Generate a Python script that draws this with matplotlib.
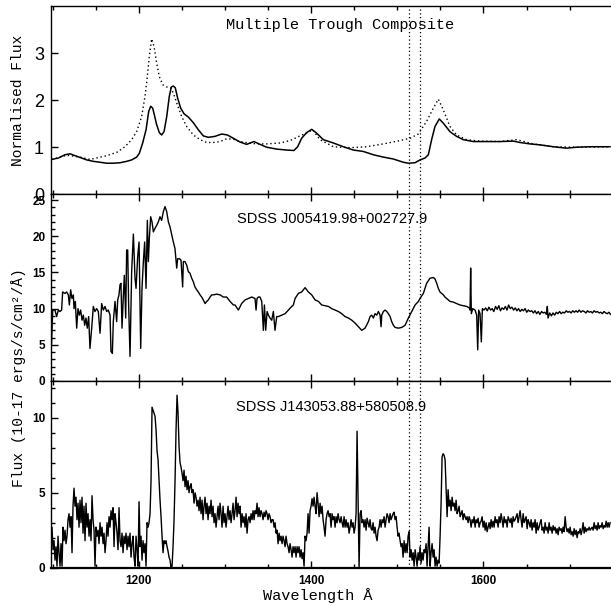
import numpy as np
import matplotlib.pyplot as plt
from matplotlib.ticker import MultipleLocator, FixedLocator

# ---- composite spectra (normalised flux) ----
wave_comp = [1098.8, 1106.5, 1114.2, 1120.0, 1125.9, 1133.6, 1139.4, 1147.1, 1154.9, 1162.6,
             1170.3, 1178.1, 1185.8, 1191.6, 1197.4, 1200.5, 1204.4, 1208.3, 1211.4, 1213.7,
             1216.0, 1217.9, 1220.6, 1223.7, 1226.4, 1229.2, 1232.3, 1235.3, 1237.7, 1240.0,
             1242.3, 1245.0, 1248.5, 1252.4, 1257.4, 1263.2, 1269.0, 1274.8, 1280.6, 1288.3,
             1296.1, 1302.7, 1309.6, 1317.4, 1325.1, 1333.6, 1340.6, 1348.3, 1359.9, 1371.5,
             1380.0, 1384.3, 1388.9, 1394.7, 1400.6, 1405.6, 1410.2, 1414.1, 1425.7, 1437.3,
             1448.9, 1460.5, 1472.1, 1483.7, 1495.3, 1507.0, 1512.7, 1520.5, 1526.3, 1532.1,
             1536.0, 1539.8, 1543.7, 1548.7, 1553.4, 1561.1, 1568.8, 1576.6, 1588.2, 1603.7,
             1619.1, 1634.6, 1642.4, 1654.0, 1665.6, 1681.0, 1696.5, 1708.1, 1723.6, 1746.8]
flux_comp = [0.74, 0.77, 0.84, 0.86, 0.82, 0.77, 0.73, 0.70, 0.68, 0.66,
             0.66, 0.67, 0.70, 0.73, 0.79, 0.87, 1.09, 1.37, 1.76, 1.87,
             1.83, 1.69, 1.48, 1.31, 1.26, 1.33, 1.65, 2.08, 2.28, 2.30,
             2.26, 2.04, 1.83, 1.71, 1.64, 1.52, 1.37, 1.24, 1.21, 1.23,
             1.28, 1.26, 1.19, 1.11, 1.06, 1.12, 1.06, 1.00, 0.96, 0.94,
             0.93, 1.01, 1.19, 1.31, 1.38, 1.31, 1.23, 1.16, 1.09, 1.01,
             0.94, 0.91, 0.84, 0.79, 0.75, 0.68, 0.66, 0.67, 0.73, 0.77,
             0.84, 1.16, 1.44, 1.60, 1.51, 1.33, 1.23, 1.16, 1.12, 1.12,
             1.12, 1.13, 1.10, 1.07, 1.05, 1.01, 0.98, 1.00, 1.01, 1.01]

wave_ref = [1098.8, 1116.2, 1131.7, 1143.3, 1162.6, 1174.2, 1183.9, 1191.6, 1197.4, 1203.2,
            1207.1, 1209.8, 1212.1, 1214.8, 1217.6, 1220.6, 1223.7, 1227.6, 1232.3, 1236.9,
            1240.0, 1243.9, 1249.7, 1255.5, 1263.2, 1271.0, 1278.7, 1286.4, 1294.2, 1301.9,
            1309.6, 1317.4, 1327.0, 1336.7, 1348.3, 1363.8, 1375.4, 1387.0, 1396.7, 1401.7,
            1410.2, 1425.7, 1445.0, 1464.4, 1483.7, 1503.1, 1514.7, 1524.3, 1534.0, 1541.8,
            1547.6, 1553.4, 1561.1, 1568.8, 1580.5, 1595.9, 1619.1, 1638.5, 1657.8, 1681.0,
            1704.3, 1746.8]
flux_ref = [0.74, 0.83, 0.79, 0.74, 0.82, 0.89, 1.01, 1.16, 1.33, 1.65,
            2.08, 2.50, 2.93, 3.30, 3.14, 2.79, 2.50, 2.33, 2.28, 2.26,
            2.15, 1.94, 1.65, 1.44, 1.26, 1.16, 1.10, 1.10, 1.12, 1.18,
            1.17, 1.12, 1.09, 1.07, 1.07, 1.09, 1.14, 1.24, 1.32, 1.37,
            1.16, 1.01, 0.99, 1.01, 1.07, 1.14, 1.19, 1.28, 1.55, 1.83,
            2.02, 1.79, 1.44, 1.26, 1.16, 1.13, 1.12, 1.16, 1.07, 1.01,
            1.00, 1.01]

# ---- SDSS J005419.98+002727.9 ----
wave_j0054 = [1098.5, 1100.0, 1102.6, 1104.5, 1106.5, 1108.4, 1110.3, 1111.5, 1114.2, 1116.2,
              1118.1, 1119.3, 1120.8, 1122.3, 1123.9, 1124.7, 1126.2, 1127.8, 1129.3, 1130.9,
              1132.4, 1134.0, 1135.5, 1137.1, 1138.6, 1140.1, 1141.7, 1143.2, 1145.2, 1147.1,
              1149.0, 1151.0, 1152.9, 1154.9, 1156.8, 1158.7, 1160.7, 1162.6, 1164.5, 1166.5,
              1167.6, 1169.2, 1170.3, 1172.3, 1174.2, 1175.4, 1176.9, 1178.1, 1179.2, 1180.4,
              1182.0, 1183.1, 1184.7, 1185.8, 1187.0, 1188.1, 1189.7, 1191.6, 1193.6, 1195.5,
              1196.7, 1198.6, 1200.2, 1202.1, 1203.6, 1205.2, 1206.7, 1208.3, 1209.8, 1211.0,
              1212.1, 1213.7, 1215.2, 1216.8, 1218.7, 1220.6, 1222.6, 1224.5, 1226.4, 1228.4,
              1230.3, 1232.3, 1234.2, 1236.1, 1238.1, 1240.0, 1241.9, 1243.9, 1245.0, 1247.0,
              1248.9, 1250.8, 1251.6, 1253.5, 1255.5, 1257.4, 1259.3, 1261.3, 1263.2, 1265.1,
              1267.1, 1269.0, 1271.0, 1272.9, 1274.8, 1276.8, 1278.7, 1280.6, 1282.6, 1284.5,
              1286.4, 1290.3, 1294.2, 1298.0, 1301.9, 1305.8, 1309.7,
              1311.6, 1315.5, 1319.3, 1323.2, 1327.1, 1331.0, 1334.8, 1336.0, 1337.1, 1338.7,
              1340.6, 1342.6, 1344.5, 1345.7, 1347.2, 1348.8, 1350.3, 1352.2, 1354.2, 1356.1,
              1358.0, 1360.0, 1361.9, 1365.8, 1369.7, 1373.5, 1377.4, 1379.3, 1381.3, 1385.1,
              1389.0, 1392.9, 1394.8, 1396.7, 1400.6, 1404.5, 1408.4, 1412.2, 1416.1, 1420.0,
              1423.8, 1427.7, 1431.6, 1435.4, 1439.3, 1443.2, 1447.1, 1450.9, 1454.8, 1458.7,
              1462.5, 1466.4, 1468.3, 1470.3, 1472.2, 1474.1, 1476.1, 1478.0, 1480.0, 1481.1,
              1481.9, 1483.8, 1485.8, 1487.7, 1489.6, 1491.6, 1493.5, 1495.4, 1497.4, 1501.2,
              1505.1, 1509.0, 1512.8, 1516.7, 1520.6, 1524.5,
              1526.3, 1530.2, 1534.0, 1537.9, 1541.8, 1543.7, 1545.7, 1547.6, 1549.5, 1551.5,
              1553.4, 1555.3, 1557.3, 1561.1, 1565.0, 1568.9, 1572.7, 1576.6, 1580.5, 1583.6,
              1584.4, 1585.1, 1585.9, 1587.5, 1590.2, 1592.1, 1593.3, 1594.4, 1596.0, 1597.5,
              1598.7, 1600.6, 1602.5, 1604.4, 1606.3, 1608.2, 1610.1, 1612.0, 1614.0, 1615.9,
              1617.8, 1619.7, 1621.6, 1623.5, 1625.4, 1627.3, 1629.2, 1631.1, 1633.0, 1635.0,
              1636.9, 1638.8, 1640.7, 1642.6, 1644.5, 1646.4, 1648.3, 1650.2, 1652.1, 1654.0,
              1656.0, 1657.9, 1659.8, 1661.7, 1663.6, 1665.5, 1667.4, 1669.3, 1671.2, 1673.1,
              1674.1, 1674.9, 1676.9, 1678.8, 1680.7, 1682.6, 1684.5, 1686.4, 1688.3, 1690.2,
              1692.1, 1694.1, 1696.0, 1697.9, 1699.8, 1701.7, 1703.6, 1705.5, 1707.4, 1709.3,
              1711.2, 1713.1, 1715.1, 1717.0, 1718.9, 1720.8, 1722.7, 1724.6, 1726.5, 1728.4,
              1730.3, 1732.2, 1734.2, 1736.1, 1738.0, 1739.9, 1741.8, 1743.7, 1745.6, 1747.5]
flux_j0054 = [4.8, 9.8, 9.8, 8.9, 9.8, 9.6, 9.8, 12.3, 12.1, 12.3,
              11.9, 10.5, 12.6, 11.4, 11.9, 10.0, 11.0, 7.3, 10.0, 9.1,
              9.8, 8.4, 9.1, 7.7, 8.7, 7.3, 8.9, 4.5, 7.3, 10.3,
              9.6, 10.0, 9.6, 6.6, 10.7, 9.8, 10.3, 9.6, 9.8, 9.1,
              4.1, 3.8, 8.2, 11.0, 8.2, 11.2, 11.9, 13.3, 13.5, 7.3,
              11.9, 14.6, 8.7, 18.1, 18.1, 10.5, 3.4, 15.1, 20.3, 14.2,
              12.8, 17.2, 19.2, 4.5, 12.8, 16.5, 19.2, 12.8, 22.2, 16.5,
              19.7, 22.7, 22.0, 20.6, 21.1, 21.5, 22.0, 22.7, 22.2, 23.4,
              24.1, 23.4, 22.0, 21.3, 20.2, 19.2, 18.3, 15.6, 16.9, 16.9,
              16.7, 13.0, 16.5, 16.5, 16.0, 15.1, 14.9, 14.2, 13.7, 13.0,
              12.6, 12.3, 11.9, 11.6, 11.2, 10.7, 11.0, 11.2, 11.6, 11.9,
              11.9, 12.0, 11.9, 11.6, 11.6, 11.0, 10.5,
              10.5, 9.8, 10.7, 11.2, 11.4, 11.6, 11.4, 9.8, 11.4, 11.6,
              11.6, 11.0, 7.0, 10.5, 7.0, 9.6, 9.1, 8.7, 8.4, 9.6,
              7.0, 8.9, 8.9, 9.1, 9.3, 9.8, 10.3, 10.5, 11.4, 12.1,
              12.3, 12.9, 12.6, 12.3, 11.9, 11.2, 11.0, 10.5, 10.4, 10.3,
              10.0, 9.8, 9.6, 9.3, 8.9, 8.7, 8.4, 8.0, 7.5, 7.0,
              7.3, 8.2, 8.9, 9.1, 8.7, 9.3, 9.1, 9.6, 9.1, 7.5,
              9.1, 9.6, 9.8, 9.6, 9.3, 8.9, 8.2, 7.7, 7.4, 7.3,
              7.4, 7.7, 8.7, 9.6, 10.5, 11.0,
              11.4, 12.1, 13.5, 14.2, 14.3, 14.1, 13.5, 12.8, 12.3, 12.1,
              11.9, 11.6, 11.4, 11.0, 10.9, 10.7, 10.5, 10.4, 10.3, 10.1,
              9.8, 15.6, 9.3, 10.0, 9.8, 9.1, 4.3, 9.8, 9.3, 5.4,
              10.0, 9.8, 10.1, 9.7, 10.2, 9.8, 10.0, 9.6, 10.3, 9.9,
              10.4, 9.7, 10.1, 9.9, 10.3, 9.8, 10.5, 10.0, 10.2, 9.8,
              10.1, 9.7, 10.0, 9.6, 9.9, 9.7, 10.0, 9.5, 9.8, 9.6,
              9.7, 9.4, 9.7, 9.3, 9.6, 9.2, 9.6, 9.4, 9.5, 9.2,
              10.3, 8.7, 9.4, 9.0, 9.4, 9.1, 9.5, 9.3, 9.6, 9.3,
              9.5, 9.4, 9.7, 9.5, 9.6, 9.4, 9.7, 9.5, 9.7, 9.5,
              9.8, 9.5, 9.7, 9.6, 9.4, 9.7, 9.5, 9.6, 9.4, 9.7,
              9.5, 9.6, 9.4, 9.5, 9.3, 9.6, 9.4, 9.3, 9.5, 9.2]

# ---- SDSS J143053.88+580508.9, one flux value per 1.161 A pixel from 1098 A ----
flux_j1430 = [
    1.4, 2.7, 1.2, 1.8, 0.5, 1.4, 0.1, 2.1, 1.0, 0.1, 1.6, 0.1, 2.7, 1.8, 2.5, 1.6, 2.1, 3.2, 3.6, 2.7,
    3.4, 1.0, 4.1, 5.3, 4.1, 4.7, 3.2, 4.3, 2.7, 4.5, 3.0, 4.7, 2.3, 4.1, 1.8, 4.3, 2.7, 3.6, 2.1, 3.2,
    1.8, 4.8, 3.2, 2.5, 0.1, 2.7, 2.1, 2.5, 1.6, 3.0, 2.1, 2.7, 1.6, 2.3, 1.0, 1.8, 3.0, 2.1, 3.4, 2.7,
    3.8, 3.2, 4.0, 1.4, 3.6, 3.0, 2.3, 1.2, 4.0, 1.8, 1.4, 2.3, 1.0, 2.1, 1.6, 2.3, 1.2, 2.1, 1.4, 2.3,
    0.7, 1.6, 2.1, 0.7, 0.1, 2.1, 1.2, 0.1, 4.4, 1.4, 2.1, 0.5, 1.8, 1.0, 1.6, 0.1, 3.0, 2.7, 3.0, 3.6,
    5.8, 10.7, 10.5, 10.3, 10.1, 9.2, 7.8, 7.2, 5.8, 4.5, 3.4, 2.1, 1.0, 1.8, 1.6, 1.8, 1.4, 1.1, 0.7, 0.5,
    0.0, 0.1, 1.4, 3.2, 5.8, 9.2, 11.5, 10.3, 8.1, 7.0, 6.7, 6.3, 5.8, 6.5, 5.4, 6.1, 5.2, 5.8, 5.0, 5.4,
    5.6, 5.0, 5.2, 4.3, 5.0, 4.7, 4.1, 4.5, 3.8, 4.7, 3.6, 4.5, 3.2, 4.1, 4.7, 3.6, 4.3, 3.2, 4.1, 3.6,
    4.5, 3.4, 4.1, 3.0, 3.6, 2.7, 3.4, 4.1, 3.2, 4.3, 3.6, 2.7, 4.1, 3.0, 3.6, 2.7, 3.4, 4.1, 3.2, 3.8,
    3.0, 3.6, 4.3, 3.2, 3.8, 4.7, 3.4, 4.3, 3.6, 4.1,
    2.7, 3.6, 3.0, 3.4, 2.7, 3.6, 2.3, 3.2, 3.4, 3.0, 3.6, 3.2, 3.8, 3.2, 3.8, 3.6, 4.3, 3.4, 4.0, 3.4,
    3.8, 3.6, 3.2, 3.7, 3.4, 3.8, 3.6, 3.2, 3.6, 3.4, 3.0, 3.2, 3.2, 2.7, 3.0, 2.3, 2.5, 1.6, 2.3, 1.8,
    2.1, 1.6, 2.1, 1.8, 1.4, 2.1, 1.6, 1.4, 1.0, 1.6, 1.2, 0.7, 1.4, 1.0, 1.4, 0.7, 1.4, 1.0, 1.4, 0.7,
    1.2, 0.6, 1.0, 0.1, 2.1, 1.8, 2.3, 3.6, 2.3, 3.8, 4.1, 4.6, 4.1, 4.7, 4.1, 3.6, 5.0, 4.3, 3.4, 4.3,
    3.6, 4.1, 3.2, 2.7, 2.1, 3.2, 3.6, 3.8, 3.4, 3.6, 2.7, 3.6, 3.2, 3.4, 2.7, 3.4, 3.0, 3.6, 3.2, 3.0,
    3.4, 3.0, 2.7, 3.4, 2.7, 3.2, 2.7, 3.0, 2.3, 2.7, 3.2, 2.7, 3.0, 2.3, 2.7, 3.6, 9.1, 4.7, 0.0, 3.6,
    3.8, 3.0, 3.2, 2.7, 3.2, 2.5, 3.3, 3.0, 2.7, 3.2, 2.6, 2.5, 3.0, 2.3, 2.7, 2.1, 1.8, 2.5, 2.7, 3.2,
    2.7, 3.2, 3.0, 3.4, 2.7, 3.2, 3.6, 3.4, 3.0, 3.6, 3.2, 3.4, 3.6, 3.7, 3.2, 3.4, 2.7, 2.1, 2.3, 1.8,
    1.4, 1.6, 0.7, 1.8, 1.0, 1.6, 1.0, 2.1, 2.4, 0.7, 1.2, 0.5, 1.0, 0.1, 1.2, 0.7, 0.1, 1.0, 0.5, 1.4,
    0.3, 1.0, 0.5, 1.2,
    1.0, 1.6, 0.1, 1.4, 2.7, 0.1, 1.0, 1.6, 0.7, 1.2, 0.1, 0.7, 0.1, 0.5, 0.3, 2.1, 4.3, 7.4, 7.6, 7.5,
    7.2, 5.4, 3.4, 5.2, 4.1, 4.5, 3.8, 4.7, 4.1, 4.3, 3.8, 4.5, 3.6, 3.8, 4.1, 3.4, 3.6, 3.8, 3.2, 3.6,
    3.4, 3.2, 3.4, 3.0, 3.4, 3.2, 2.7, 3.2, 3.0, 3.4, 2.7, 3.2, 3.0, 3.3, 2.7, 3.0, 3.1, 3.4, 2.7, 3.1,
    2.5, 3.0, 2.4, 2.7, 3.0, 2.6, 3.2, 2.7, 3.1, 2.7, 3.4, 3.0, 3.2, 2.7, 3.4, 3.0, 3.6, 3.2, 2.7, 3.4,
    3.0, 3.2, 2.7, 3.4, 3.2, 3.0, 3.3, 2.7, 3.4, 3.1, 3.2, 3.4, 3.6, 3.0, 3.4, 3.8, 3.2, 2.7, 3.6, 3.0,
    3.2, 3.4, 2.6, 3.2, 3.0, 2.7, 3.2, 2.5, 3.0, 2.7, 3.2, 2.3, 3.0, 2.5, 2.7, 3.0, 3.2, 2.5, 2.7, 2.3,
    3.0, 2.5, 2.7, 2.3, 3.0, 2.5, 2.7, 2.3, 2.8, 2.5, 2.7, 2.3, 2.6, 2.2, 2.7, 2.5, 2.6, 2.3, 2.7, 2.4,
    3.4, 2.7, 2.4, 2.6, 2.3, 2.7, 2.2, 2.4, 2.1, 2.6, 2.2, 2.5, 2.0, 2.4, 2.3, 2.6, 2.2, 2.5, 3.0, 2.3,
    2.7, 2.4, 2.6, 2.5, 2.7, 2.5, 2.6, 2.7, 2.5, 3.0, 2.6, 2.8, 2.5, 3.0, 2.6, 2.8, 2.7, 3.0, 2.6, 2.8,
    2.7, 3.1, 2.7, 3.0, 2.7, 3.0]
wave_j1430 = 1098.0 + 1.161 * np.arange(len(flux_j1430))

trough_edges = [1513, 1526]

names = ['Multiple Trough Composite', 'SDSS J005419.98+002727.9', 'SDSS J143053.88+580508.9']

mono = 'Liberation Mono'
sans = 'Liberation Sans'

fig = plt.figure(figsize=(6.11, 6.03), dpi=100)
left, width = 0.0835, 0.9193
ax1 = fig.add_axes([left, 0.6778, width, 0.3123])
ax2 = fig.add_axes([left, 0.3682, width, 0.3096])
ax3 = fig.add_axes([left, 0.0586, width, 0.3096])

ax1.plot(wave_ref, flux_ref, color='k', lw=1.0, ls=(0, (1, 2)))
ax1.plot(wave_comp, flux_comp, color='k', lw=1.1)
ax2.plot(wave_j0054, flux_j0054, color='k', lw=1.0)
ax3.plot(wave_j1430, flux_j1430, color='k', lw=1.0)

ax1.set_ylim(0, 4.0)
ax2.set_ylim(0, 25.8)
ax3.set_ylim(0, 12.45)
ax1.yaxis.set_major_locator(FixedLocator([0, 1, 2, 3]))
ax2.yaxis.set_major_locator(FixedLocator([0, 5, 10, 15, 20, 25]))
ax3.yaxis.set_major_locator(FixedLocator([0, 5, 10]))
for ax in (ax2, ax3):
    ax.yaxis.set_minor_locator(MultipleLocator(1))

for ax in (ax1, ax2, ax3):
    ax.set_xlim(1098, 1750)
    ax.xaxis.set_major_locator(MultipleLocator(200))
    ax.xaxis.set_minor_locator(MultipleLocator(50))
    ax.tick_params(which='both', direction='in', top=True, bottom=True, left=True, right=False,
                   width=1.0, colors='k')
    ax.tick_params(which='major', length=5)
    ax.tick_params(which='minor', length=3)
    for s in ax.spines.values():
        s.set_linewidth(1.0)
    for x in trough_edges:
        ax.axvline(x, color='k', lw=0.9, ls=(0, (1, 2)))

ax1.tick_params(labelbottom=False)
ax2.tick_params(labelbottom=False)
ax3.spines['bottom'].set_linewidth(1.6)

for lab in ax1.get_yticklabels():
    lab.set_fontfamily(sans)
    lab.set_fontsize(13)
ax1.tick_params(axis='y', pad=5)
for ax in (ax2, ax3):
    for lab in ax.get_yticklabels():
        lab.set_fontfamily(sans)
        lab.set_fontweight('bold')
        lab.set_fontsize(8.5)
    ax.tick_params(axis='y', pad=4)
for lab in ax3.get_xticklabels():
    lab.set_fontfamily(sans)
    lab.set_fontweight('bold')
    lab.set_fontsize(8.5)
ax3.tick_params(axis='x', pad=5)

ax1.text(1433, 3.52, names[0], ha='center', va='baseline', fontfamily=mono, fontsize=11)
ax2.text(1424, 21.8, names[1], ha='center', va='baseline', fontfamily=sans, fontsize=10.5)
ax3.text(1423, 10.47, names[2], ha='center', va='baseline', fontfamily=sans, fontsize=10.5)

fig.text(0.030, 1 - 100 / 603, 'Normalised Flux', rotation=90, ha='center', va='center',
         fontfamily=mono, fontsize=10.5)
fig.text(0.030, 1 - 378 / 603, 'Flux (10-17 ergs/s/cm²/Å)', rotation=90, ha='center',
         va='center', fontfamily=mono, fontsize=10.5)
fig.text(0.52, 1 - 596 / 603, 'Wavelength Å', ha='center', va='center',
         fontfamily=mono, fontsize=11)

plt.savefig('out.png', dpi=100)
